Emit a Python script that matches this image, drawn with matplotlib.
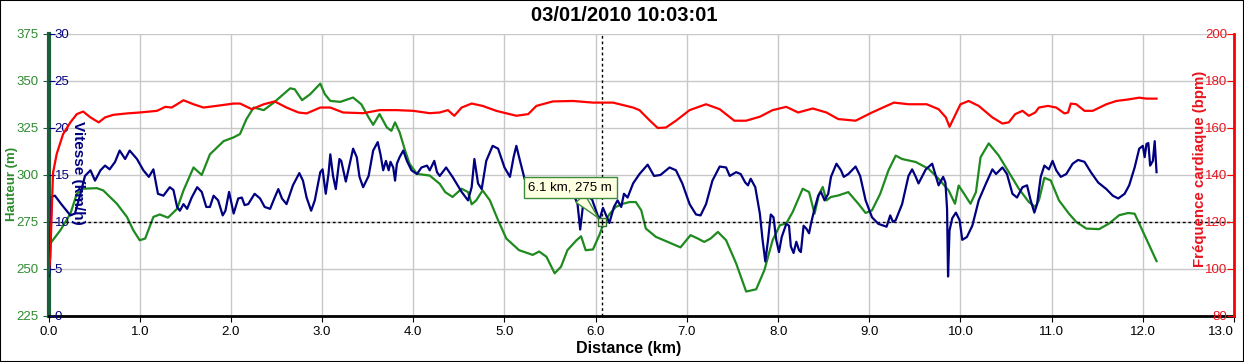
import numpy as np
import matplotlib.pyplot as plt
from matplotlib.patches import Rectangle

plt.rcParams['font.family'] = ['Liberation Sans', 'DejaVu Sans']

title = "03/01/2010 10:03:01"

# altitude (m) vs distance (km)
elev_km = [0.00, 0.02, 0.13, 0.24, 0.31, 0.38, 0.53, 0.60, 0.75, 0.86, 0.93, 1.00,
           1.06, 1.15, 1.22, 1.31, 1.41, 1.48, 1.59, 1.68, 1.77, 1.92,
           2.03, 2.10, 2.17, 2.25, 2.36, 2.47, 2.65, 2.70, 2.78, 2.87, 2.98,
           3.03, 3.09, 3.20, 3.34, 3.43, 3.51, 3.56, 3.63, 3.71, 3.76, 3.80, 3.85, 3.91, 3.96,
           4.04, 4.18, 4.29, 4.35, 4.43, 4.53, 4.60, 4.64, 4.69, 4.76, 4.84, 4.93,
           5.02, 5.16, 5.31, 5.38, 5.46, 5.55, 5.62, 5.69, 5.79, 5.84, 5.89, 5.97,
           6.04, 6.08, 6.15, 6.22, 6.30, 6.37, 6.44, 6.50, 6.55, 6.66, 6.81, 6.93,
           7.04, 7.12, 7.19, 7.26, 7.34, 7.43, 7.54, 7.65, 7.76, 7.85, 7.94,
           8.02, 8.09, 8.16, 8.27, 8.34, 8.40, 8.45, 8.49, 8.53, 8.58, 8.66, 8.77, 8.88, 8.96,
           9.03, 9.12, 9.21, 9.29, 9.36, 9.51, 9.65, 9.76, 9.87, 9.94, 9.98,
           10.04, 10.11, 10.17, 10.22, 10.31, 10.42, 10.53, 10.64, 10.75, 10.82, 10.86, 10.92, 10.99,
           11.08, 11.19, 11.27, 11.38, 11.52, 11.63, 11.74, 11.84, 11.91, 11.96,
           12.06, 12.15]
elev_m = [262.0, 263.6, 270.6, 279.4, 290.0, 292.7, 293.0, 291.8, 284.7, 277.7, 270.6, 265.3,
          266.2, 277.7, 279.0, 277.3, 282.0, 291.8, 304.0, 300.0, 311.0, 318.0,
          320.0, 321.8, 329.7, 335.9, 334.5, 338.5, 346.1, 345.6, 339.8, 343.0, 348.6,
          343.0, 339.4, 338.9, 341.2, 337.6, 330.6, 326.7, 332.4, 325.3, 323.5, 328.0, 322.7, 313.0, 305.9,
          300.6, 299.7, 295.3, 290.9, 288.3, 292.7, 290.9, 284.4, 286.5, 291.8, 286.5, 275.9,
          266.2, 260.0, 257.5, 259.3, 256.5, 247.7, 251.2, 260.0, 265.3, 267.4, 260.0, 260.4,
          268.0, 273.3, 279.1, 283.0, 284.7, 285.6, 285.6, 281.2, 271.5, 267.1, 264.0, 261.5,
          268.0, 266.2, 264.4, 266.2, 269.7, 265.3, 253.0, 238.0, 239.2, 249.4, 265.3,
          273.3, 274.2, 280.3, 292.7, 290.9, 279.4, 290.0, 293.6, 286.5, 288.3, 289.1, 290.9, 284.7, 279.8,
          281.2, 290.0, 302.4, 310.3, 308.5, 306.9, 303.3, 298.0, 291.8, 284.7, 294.4,
          290.0, 284.7, 290.9, 309.4, 316.8, 310.3, 301.5, 292.7, 285.6, 283.0, 286.5, 298.5, 297.1,
          286.5, 279.4, 275.0, 271.5, 271.2, 274.2, 278.6, 279.8, 279.4, 274.2,
          263.6, 254.2]

# speed (km/h)
speed_km = [0.00, 0.01, 0.035, 0.07, 0.14, 0.24, 0.29, 0.35, 0.40, 0.46, 0.51, 0.57, 0.62, 0.67, 0.73, 0.78, 0.84, 0.89, 0.97,
            1.04, 1.10, 1.15, 1.20, 1.26, 1.33, 1.37, 1.41, 1.44, 1.48, 1.52, 1.57, 1.63, 1.68, 1.73, 1.77, 1.81, 1.86, 1.91, 1.94, 1.98,
            2.03, 2.08, 2.12, 2.15, 2.19, 2.26, 2.32, 2.37, 2.43, 2.48, 2.52, 2.56, 2.61, 2.68, 2.75, 2.79, 2.83, 2.88, 2.92, 2.98,
            3.005, 3.04, 3.07, 3.09, 3.12, 3.15, 3.19, 3.21, 3.26, 3.31, 3.34, 3.38, 3.41, 3.45, 3.51, 3.56, 3.61, 3.64, 3.67, 3.70,
            3.73, 3.75, 3.78, 3.80, 3.82, 3.85, 3.89, 3.93, 3.98,
            4.04, 4.09, 4.15, 4.18, 4.23, 4.26, 4.29, 4.36, 4.43, 4.53, 4.60, 4.64, 4.67, 4.71, 4.75, 4.80, 4.87, 4.93,
            5.00, 5.06, 5.10, 5.13, 5.16, 5.22, 5.30, 5.40, 5.50, 5.60, 5.70, 5.77, 5.80, 5.83, 5.86, 5.90, 5.96,
            6.04, 6.08, 6.15, 6.20, 6.24, 6.28, 6.31, 6.35, 6.41, 6.48, 6.57, 6.64, 6.71, 6.81, 6.88, 6.95,
            7.03, 7.10, 7.15, 7.21, 7.28, 7.36, 7.43, 7.47, 7.54, 7.59, 7.64, 7.67, 7.70, 7.75, 7.80, 7.83, 7.86, 7.89, 7.92, 7.95, 7.98,
            8.01, 8.04, 8.09, 8.12, 8.14, 8.17, 8.20, 8.23, 8.25, 8.28, 8.31, 8.34, 8.36, 8.40, 8.44, 8.47, 8.51, 8.55, 8.58,
            8.64, 8.69, 8.72, 8.77, 8.85, 8.90, 8.96,
            9.03, 9.10, 9.19, 9.23, 9.26, 9.29, 9.36, 9.43, 9.47, 9.51, 9.54, 9.62, 9.69, 9.73, 9.76, 9.81, 9.835, 9.853, 9.864,
            9.88, 9.91, 9.95, 9.99,
            10.02, 10.07, 10.13, 10.20, 10.28, 10.35, 10.39, 10.46, 10.51, 10.57, 10.62, 10.68, 10.73, 10.77, 10.81, 10.84, 10.88,
            10.92, 10.97,
            11.01, 11.05, 11.10, 11.16, 11.23, 11.29, 11.36, 11.43, 11.51, 11.60, 11.67, 11.73, 11.80, 11.85, 11.91, 11.96,
            12.00, 12.02, 12.04, 12.06, 12.08, 12.11, 12.13, 12.15]
speed_kmh = [4.2, 4.6, 12.7, 12.8, 11.9, 10.7, 10.9, 13.0, 14.9, 15.5, 14.4, 15.5, 16.0, 15.6, 16.4, 17.6, 16.7, 17.6, 16.7,
             15.5, 14.8, 15.6, 13.0, 12.8, 13.7, 13.4, 11.6, 11.2, 11.9, 11.4, 12.6, 13.7, 13.2, 11.6, 11.6, 12.8, 12.3, 10.7, 11.2, 13.2,
             10.9, 12.5, 12.6, 11.8, 11.9, 13.0, 12.5, 11.6, 11.4, 12.6, 13.5, 12.5, 11.9, 13.9, 15.2, 14.4, 12.6, 11.2, 12.3, 15.3,
             15.6, 13.0, 15.1, 17.2, 14.9, 13.5, 16.7, 16.5, 14.3, 16.5, 17.8, 16.9, 14.8, 13.7, 14.9, 17.6, 18.5, 17.2, 15.5, 16.5,
             15.5, 16.4, 15.8, 14.4, 16.2, 16.9, 17.6, 16.5, 15.5,
             15.1, 15.8, 16.0, 15.5, 16.5, 15.3, 14.9, 15.8, 14.8, 13.2, 12.3, 13.7, 16.7, 14.1, 13.5, 16.5, 18.1, 17.8,
             15.8, 14.8, 16.9, 18.1, 16.9, 14.6, 13.4, 12.8, 13.3, 12.6, 13.2, 12.6, 12.0, 9.2, 11.7, 12.8, 12.4,
             10.2, 11.5, 9.9, 11.6, 12.3, 11.6, 13.0, 12.6, 14.1, 15.1, 16.1, 14.9, 15.0, 15.8, 15.5, 14.1,
             11.9, 10.8, 10.7, 11.9, 14.4, 15.9, 15.8, 14.9, 15.3, 15.1, 14.2, 13.9, 14.6, 13.7, 10.9, 8.1, 5.8, 8.1, 10.8, 10.5, 8.1,
             6.8, 8.4, 9.8, 9.6, 7.4, 6.7, 7.9, 7.0, 6.8, 9.6, 9.3, 8.8, 9.8, 11.4, 12.8, 13.2, 12.3, 13.0, 14.8,
             16.2, 15.5, 14.8, 15.1, 15.9, 14.9, 12.3,
             10.5, 9.8, 9.5, 10.7, 10.0, 10.2, 11.9, 14.9, 15.6, 14.8, 14.1, 15.6, 16.2, 14.9, 13.9, 14.8, 14.2, 11.4, 4.2,
             9.1, 10.4, 11.0, 10.2,
             8.1, 8.4, 9.6, 12.3, 14.1, 15.6, 15.1, 15.8, 15.1, 13.0, 12.6, 13.7, 13.9, 12.3, 11.0, 11.9, 14.8,
             16.0, 15.6,
             16.5, 15.5, 14.8, 15.1, 16.2, 16.6, 16.4, 15.3, 14.2, 13.5, 12.8, 12.5, 13.0, 13.9, 15.8, 17.8,
             18.1, 16.9, 18.3, 18.4, 16.0, 16.5, 18.6, 15.3]

# heart rate (bpm)
hr_km = [0.00, 0.02, 0.035, 0.05, 0.09, 0.16, 0.24, 0.31, 0.38, 0.46, 0.55, 0.62, 0.71, 0.86,
         1.00, 1.19, 1.28, 1.35, 1.41, 1.48, 1.59, 1.70, 1.84,
         2.03, 2.10, 2.23, 2.36, 2.48, 2.61, 2.74, 2.83, 2.98,
         3.09, 3.23, 3.45, 3.63, 3.82,
         4.00, 4.18, 4.29, 4.38, 4.42, 4.45, 4.53, 4.64, 4.76, 4.91,
         5.13, 5.26, 5.35, 5.53, 5.75, 5.97,
         6.19, 6.41, 6.48, 6.59, 6.68, 6.77, 6.88,
         7.03, 7.21, 7.36, 7.52, 7.65, 7.80, 7.94,
         8.09, 8.22, 8.38, 8.53, 8.66, 8.85,
         9.03, 9.27, 9.43, 9.63, 9.76, 9.84, 9.88, 9.93,
         10.00, 10.09, 10.20, 10.35, 10.46, 10.53, 10.60, 10.68, 10.75, 10.82, 10.86, 10.96,
         11.05, 11.14, 11.18, 11.21, 11.27, 11.36, 11.45, 11.60, 11.71, 11.85, 11.96,
         12.04, 12.15]
hr_bpm = [98, 105, 125, 141, 149.0, 157.4, 162.4, 165.9, 167.0, 164.5, 162.4, 164.5, 165.6, 166.2,
          166.6, 167.3, 169.0, 168.7, 170.1, 171.8, 170.1, 168.7, 169.4,
          170.4, 170.4, 168.0, 170.1, 171.3, 168.7, 166.6, 166.2, 168.7,
          168.7, 166.6, 166.3, 167.6, 167.6,
          167.3, 166.3, 166.6, 167.6, 166.2, 165.2, 168.7, 170.4, 169.4, 167.3,
          165.2, 165.9, 169.4, 171.3, 171.5, 170.8,
          170.8, 168.7, 167.6, 163.3, 160.0, 160.2, 163.1,
          167.6, 170.1, 168.0, 163.1, 163.1, 164.8, 167.6,
          169.0, 166.6, 168.3, 166.6, 163.8, 163.1,
          166.6, 170.8, 170.1, 170.1, 168.0, 164.5, 160.5, 164.5,
          170.1, 171.5, 169.4, 164.5, 161.9, 162.4, 165.9, 167.3, 165.2, 166.6, 168.7, 169.4,
          168.7, 166.2, 166.6, 170.4, 170.1, 167.3, 167.3, 170.1, 171.5, 172.2, 172.9,
          172.5, 172.5]

cursor_km, cursor_m = 6.07, 275
tip_text = "6.1 km, 275 m"

green = '#1f8a1f'
green_txt = '#2e8b2e'
green_spine = '#1b5e3b'
navy = '#000080'
red = '#ff0000'
red_txt = '#e8141e'

fig = plt.figure(figsize=(12.44, 3.62), dpi=100)
ax = fig.add_axes([0.039, 0.1271, 0.953, 0.779])

# altitude axis (base)
ax.plot(elev_km, elev_m, color=green, lw=1.6)
ax.set_xlim(0, 13)
ax.set_ylim(225, 375)
ax.set_xticks(np.arange(0, 14, 1))
ax.set_xticklabels(['%.1f' % v for v in range(14)])
ax.set_yticks(range(225, 376, 25))
ax.grid(True, color='#c8c8c8', lw=1)
ax.set_axisbelow(True)
for s in ['top', 'right']:
    ax.spines[s].set_visible(False)
ax.spines['left'].set_color(green_spine)
ax.spines['left'].set_linewidth(3)
ax.spines['bottom'].set_color('black')
ax.spines['bottom'].set_linewidth(2)
ax.tick_params(axis='x', direction='out', length=4, labelsize=9.5, colors='black')
ax.tick_params(axis='y', direction='out', length=4, labelsize=9.5, color=green_spine, labelcolor=green_txt)
# last distance label sits flush against the right edge
ax.get_xticklabels()[-1].set_ha('right')
ax.axvline(cursor_km, color='black', lw=1, ls=(0, (2, 2)))
ax.axhline(cursor_m, color='black', lw=1, ls=(0, (2, 2)))

# speed axis (left, inside)
ax_v = ax.twinx()
ax_v.plot(speed_km, speed_kmh, color=navy, lw=1.6)
ax_v.set_ylim(0, 30)
ax_v.set_yticks(range(0, 31, 5))
ax_v.yaxis.set_ticks_position('left')
for s in ax_v.spines.values():
    s.set_visible(False)
ax_v.tick_params(axis='y', direction='in', length=4, pad=-4.5, labelsize=9.5, color=navy, labelcolor=navy)
for t in ax_v.get_yticklabels():
    t.set_ha('left')

# heart rate axis (right, inside)
ax_h = ax.twinx()
ax_h.plot(hr_km, hr_bpm, color=red, lw=1.6)
ax_h.set_ylim(80, 200)
ax_h.set_yticks(range(80, 201, 20))
for s in ['left', 'top', 'bottom']:
    ax_h.spines[s].set_visible(False)
ax_h.spines['right'].set_color(red)
ax_h.spines['right'].set_linewidth(2)
ax_h.tick_params(axis='y', direction='in', length=5, pad=-5, labelsize=9.5, color=red, labelcolor=red_txt)
for t in ax_h.get_yticklabels():
    t.set_ha('right')

# tooltip
ax_h.plot([cursor_km], [cursor_m], marker='s', ms=6, mfc='#ffffe1', mec='#2f6f2f',
          transform=ax.transData, zorder=6)
ax_h.plot([cursor_km], [cursor_m], marker='+', ms=4, color='black', mew=1,
          transform=ax.transData, zorder=7)
ax_h.annotate(tip_text, xy=(cursor_km, cursor_m), xycoords=ax.transData,
              xytext=(5.72, 293.5), textcoords=ax.transData,
              ha='center', va='center', fontsize=9.5, zorder=8,
              bbox=dict(boxstyle='square,pad=0.35', fc='#ffffe1', ec='#3c8c3c', lw=1),
              arrowprops=dict(arrowstyle='wedge,tail_width=0.9', fc='#ffffe1', ec='#3c8c3c',
                              lw=1, shrinkA=0, shrinkB=4))

# labels
fig.text(0.502, 0.956, title, ha='center', va='center', fontsize=14.5, fontweight='bold')
fig.text(0.505, 0.036, 'Distance (km)', ha='center', va='center', fontsize=11.5, fontweight='bold')
fig.text(12 / 1244, 0.492, 'Hauteur (m)', rotation=90, ha='center', va='center',
         fontsize=9.5, fontweight='bold', color=green_txt)
fig.text(78 / 1244, 0.522, 'Vitesse (km/h)', rotation=270, ha='center', va='center',
         fontsize=11, fontweight='bold', color=navy)
fig.text(1200 / 1244, 0.533, 'Fréquence cardiaque (bpm)', rotation=90, ha='center', va='center',
         fontsize=10.8, fontweight='bold', color=red_txt)

fig.patches.append(Rectangle((0, 0), 1, 1, transform=fig.transFigure, fill=False,
                             ec='black', lw=1.5))

fig.savefig('out.png', dpi=100)
